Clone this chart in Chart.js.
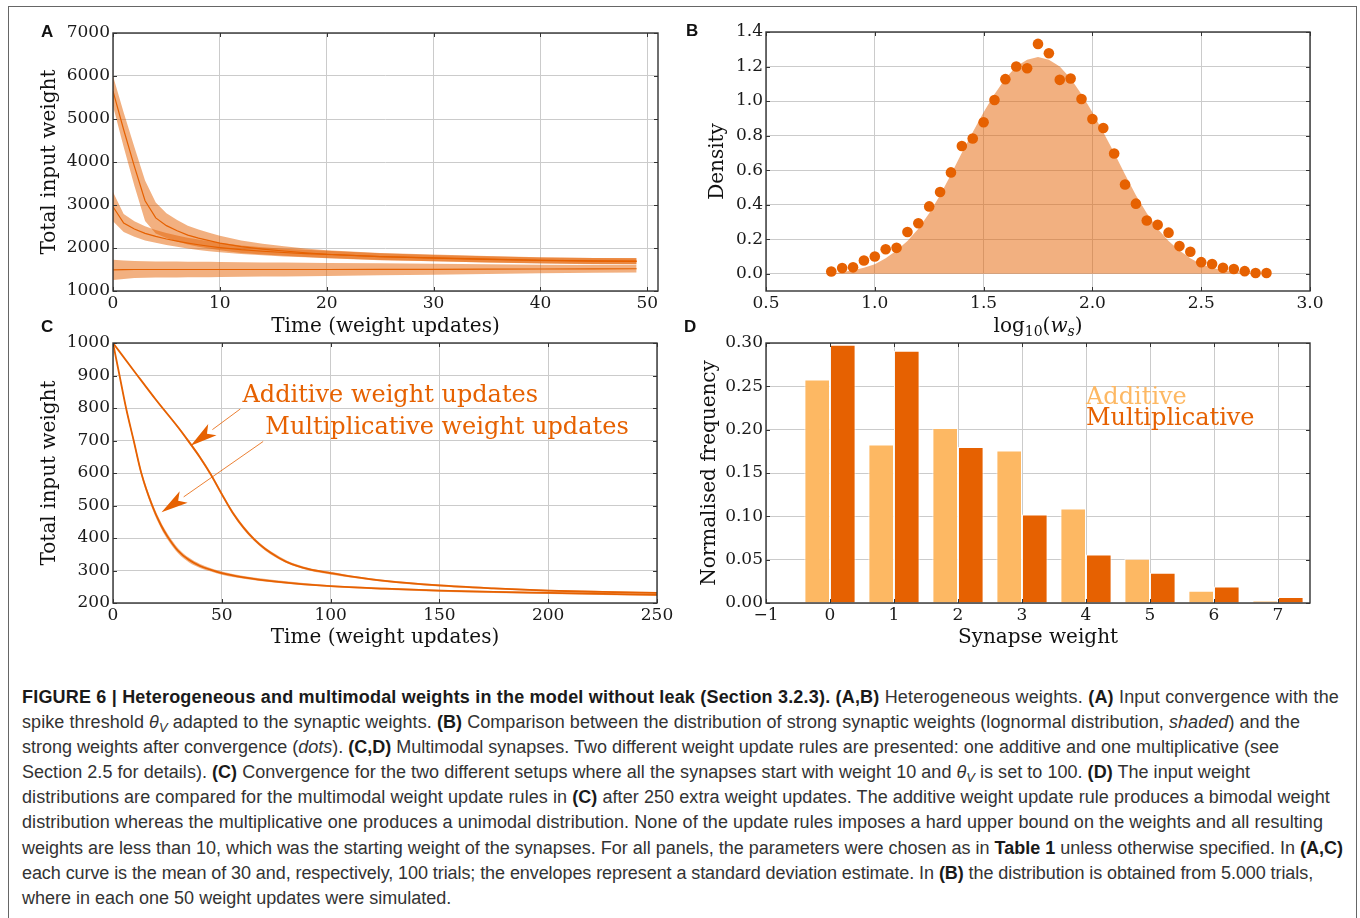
<!DOCTYPE html>
<html>
<head>
<meta charset="utf-8">
<script src="https://cdn.jsdelivr.net/npm/chart.js@4.4.0/dist/chart.umd.min.js"></script>
<style>
    body { margin: 0; background: #fff; width: 1360px; height: 918px; overflow: hidden; position: relative; }
    #frame { position: absolute; left: 8px; top: 6px; width: 1349px; height: 960px; border: 1.4px solid #666; box-sizing: border-box; }
    canvas { position: absolute; }
    .lbl { position: absolute; font: bold 17px "Liberation Sans", Arial, sans-serif; line-height: 17px; color: #111; }
    #caption { position: absolute; left: 22px; top: 685px; font-family: "Liberation Sans", Arial, sans-serif; font-size: 18px; line-height: 25.1px; color: #333; }
    #caption div { white-space: nowrap; width: max-content; }
    #caption b { color: #1a1a1a; }
    #caption sub { font-size: 0.72em; line-height: 0; vertical-align: -0.3em; }
</style>
</head>
<body>
<div id="frame"></div>

<canvas id="chartA" width="660" height="330" style="left:20px;top:15px"></canvas>
<canvas id="chartB" width="660" height="330" style="left:680px;top:15px"></canvas>
<canvas id="chartC" width="660" height="335" style="left:20px;top:320px"></canvas>
<canvas id="chartD" width="660" height="335" style="left:680px;top:320px"></canvas>

<div class="lbl" style="left:41px;top:23px">A</div>
<div class="lbl" style="left:686px;top:22px">B</div>
<div class="lbl" style="left:41px;top:318px">C</div>
<div class="lbl" style="left:684px;top:318px">D</div>

<div id="caption">
<div data-right="1339"><b>FIGURE 6 | Heterogeneous and multimodal weights in the model without leak (Section 3.2.3). (A,B)</b> Heterogeneous weights. <b>(A)</b> Input convergence with the</div>
<div data-right="1300">spike threshold <i>θ</i><sub><i>V</i></sub> adapted to the synaptic weights. <b>(B)</b> Comparison between the distribution of strong synaptic weights (lognormal distribution, <i>shaded</i>) and the</div>
<div data-right="1279">strong weights after convergence (<i>dots</i>). <b>(C,D)</b> Multimodal synapses. Two different weight update rules are presented: one additive and one multiplicative (see</div>
<div data-right="1250">Section 2.5 for details). <b>(C)</b> Convergence for the two different setups where all the synapses start with weight 10 and <i>θ</i><sub><i>V</i></sub> is set to 100. <b>(D)</b> The input weight</div>
<div data-right="1330">distributions are compared for the multimodal weight update rules in <b>(C)</b> after 250 extra weight updates. The additive weight update rule produces a bimodal weight</div>
<div data-right="1323">distribution whereas the multiplicative one produces a unimodal distribution. None of the update rules imposes a hard upper bound on the weights and all resulting</div>
<div data-right="1343">weights are less than 10, which was the starting weight of the synapses. For all panels, the parameters were chosen as in <b>Table 1</b> unless otherwise specified. In <b>(A,C)</b></div>
<div data-right="1313">each curve is the mean of 30 and, respectively, 100 trials; the envelopes represent a standard deviation estimate. In <b>(B)</b> the distribution is obtained from 5.000 trials,</div>
<div>where in each one 50 weight updates were simulated.</div>
</div>

<script>
// Panel A - total input weight for three starting conditions
const timeA = [0, 1, 2, 3, 4, 5, 6, 7, 8, 9, 10, 12, 14, 16, 18, 20, 25, 30, 35, 40, 45, 49];
const highMeanA = [5650, 4750, 3900, 3100, 2700, 2520, 2400, 2300, 2230, 2170, 2115, 2030, 1975, 1930, 1890, 1855, 1800, 1770, 1740, 1715, 1700, 1695];
const highSdA = [350, 400, 450, 470, 360, 290, 250, 220, 200, 182, 168, 145, 125, 110, 100, 95, 85, 80, 75, 72, 70, 70];
const midMeanA = [2960, 2580, 2440, 2340, 2270, 2210, 2160, 2115, 2075, 2040, 2010, 1960, 1925, 1895, 1870, 1850, 1800, 1765, 1735, 1710, 1695, 1690];
const midSdA = [340, 210, 180, 165, 150, 140, 130, 125, 120, 115, 110, 100, 95, 90, 88, 85, 80, 75, 72, 70, 70, 70];
const lowMeanA = [1490, 1495, 1500, 1500, 1500, 1500, 1500, 1500, 1500, 1500, 1500, 1500, 1500, 1500, 1500, 1500, 1505, 1505, 1510, 1512, 1515, 1517];
const lowSdA = [235, 215, 195, 190, 188, 186, 184, 182, 180, 178, 176, 170, 165, 160, 155, 150, 140, 128, 115, 100, 92, 85];

// Panel B - density of log10 weights
const logW = [0.80, 0.85, 0.90, 0.95, 1.00, 1.05, 1.10, 1.15, 1.20, 1.25, 1.30, 1.35, 1.40, 1.45, 1.50, 1.55, 1.60, 1.65, 1.70, 1.75,
    1.80, 1.85, 1.90, 1.95, 2.00, 2.05, 2.10, 2.15, 2.20, 2.25, 2.30, 2.35, 2.40, 2.45, 2.50, 2.55, 2.60, 2.65, 2.70, 2.75, 2.80];
const densityDots = [0.013, 0.033, 0.037, 0.077, 0.100, 0.142, 0.150, 0.242, 0.292, 0.390, 0.473, 0.587, 0.740, 0.783, 0.877, 1.006, 1.127, 1.200, 1.190, 1.331,
    1.277, 1.123, 1.131, 1.012, 0.896, 0.844, 0.696, 0.517, 0.406, 0.308, 0.283, 0.238, 0.160, 0.127, 0.067, 0.056, 0.035, 0.027, 0.015, 0.004, 0.004];
const densityFit = [0.000, 0.010, 0.020, 0.035, 0.055, 0.090, 0.135, 0.190, 0.260, 0.350, 0.455, 0.575, 0.700, 0.820, 0.935, 1.040, 1.130, 1.200, 1.240, 1.255,
    1.240, 1.200, 1.130, 1.040, 0.935, 0.820, 0.700, 0.575, 0.455, 0.350, 0.260, 0.190, 0.135, 0.090, 0.055, 0.035, 0.020, 0.010, 0.005, 0.002, 0.000];

// Panel C - additive vs multiplicative convergence
const timeAdd = [0, 10, 20, 30, 35, 40, 45, 50, 55, 60, 65, 70, 75, 80, 90, 100, 110, 125, 150, 175, 200, 225, 250];
const additiveC = [1000, 911, 823, 740, 695, 648, 595, 535, 478, 432, 395, 366, 344, 326, 304, 292, 281, 268, 254, 245, 238, 234, 231];
const additiveSd = [0, 2, 3, 4, 5, 5, 6, 6, 6, 6, 5, 5, 5, 4, 4, 4, 3, 3, 3, 3, 3, 3, 3];
const timeMul = [0, 3, 6, 9.5, 13, 18, 22, 25, 30, 35, 40, 45, 50, 60, 75, 100, 125, 150, 175, 200, 225, 250];
const multiplicativeC = [1000, 900, 800, 700, 600, 500, 440, 405, 360, 332, 314, 302, 292, 279, 266, 252, 244, 238, 234, 231, 228, 225];
const multiplicativeSd = [0, 3, 5, 7, 8, 9, 9, 9, 8, 7, 6, 5, 5, 4, 4, 3, 3, 3, 3, 3, 3, 3];

// Panel D - weight distributions
const weightsD = [0, 1, 2, 3, 4, 5, 6, 7];
const additiveD = [0.258, 0.183, 0.202, 0.176, 0.109, 0.051, 0.014, 0.003];
const multiplicativeD = [0.298, 0.291, 0.180, 0.102, 0.056, 0.035, 0.019, 0.007];

const ORANGE = '#e66101';
const LIGHT = '#fdb863';
const BAND = 'rgba(230, 97, 1, 0.5)';
const SERIF = '"DejaVu Serif", serif';
const tickFont = { family: SERIF, size: 17 };
const titleFont = { family: SERIF, size: 20 };
const TITLE_LH = 20 * 1.2;

function pts(xs, ys) {
    return xs.map((x, i) => ({ x: x, y: ys[i] }));
}

// page boxes -> padding / fixed axis sizes so the plot area lands where it is in the figure
function panelOptions(box, area, cfg) {
    const xHeight = box.top + box.h - area.bottom;
    const yWidth = area.left - box.left;
    const xTitlePad = cfg.xTitleY ? (box.top + box.h) - cfg.xTitleY - TITLE_LH / 2 : 0;
    const yTitlePad = cfg.yTitleX - box.left - TITLE_LH / 2;
    const grid = { color: '#cbcbcb', lineWidth: 1, drawTicks: false, offset: false };
    return {
        responsive: false,
        animation: false,
        events: [],
        layout: { padding: { left: 0, top: area.top - box.top, right: box.left + box.w - area.right, bottom: 0 } },
        plugins: { legend: { display: false }, tooltip: { enabled: false } },
        scales: {
            x: {
                type: 'linear', min: cfg.x[0], max: cfg.x[1], offset: false,
                afterFit: s => { s.height = xHeight; },
                grid: grid, border: { display: false },
                ticks: { stepSize: cfg.xStep, includeBounds: false, padding: 2, font: tickFont, color: '#1a1a1a',
                    maxRotation: 0, autoSkip: false, callback: cfg.xFmt },
                title: { display: !!cfg.xTitle, text: cfg.xTitle, font: titleFont, color: '#111', padding: { top: 0, bottom: xTitlePad } }
            },
            y: {
                type: 'linear', min: cfg.y[0], max: cfg.y[1],
                afterFit: s => { s.width = yWidth; },
                grid: grid, border: { display: false },
                ticks: { stepSize: cfg.yStep, includeBounds: false, padding: 3, font: tickFont, color: '#1a1a1a',
                    autoSkip: false, callback: cfg.yFmt },
                title: { display: true, text: cfg.yTitle, font: titleFont, color: '#111', padding: { top: yTitlePad, bottom: 0 } }
            }
        }
    };
}

// matplotlib-like box with small inward ticks on all four sides
const framePlugin = {
    id: 'frame',
    afterDatasetsDraw(chart) {
        const { ctx, chartArea: a, scales: { x, y } } = chart;
        ctx.save();
        ctx.strokeStyle = '#333';
        ctx.lineWidth = 1;
        ctx.beginPath();
        x.ticks.forEach(t => {
            const px = Math.round(x.getPixelForValue(t.value)) + 0.5;
            ctx.moveTo(px, a.bottom); ctx.lineTo(px, a.bottom - 4);
            ctx.moveTo(px, a.top); ctx.lineTo(px, a.top + 4);
        });
        y.ticks.forEach(t => {
            const py = Math.round(y.getPixelForValue(t.value)) + 0.5;
            ctx.moveTo(a.left, py); ctx.lineTo(a.left + 4, py);
            ctx.moveTo(a.right, py); ctx.lineTo(a.right - 4, py);
        });
        ctx.stroke();
        ctx.lineWidth = 1.4;
        ctx.strokeRect(a.left, a.top, a.right - a.left, a.bottom - a.top);
        ctx.restore();
    }
};

function bandSets(xs, mean, sd, extra) {
    return [
        Object.assign({ data: pts(xs, mean.map((m, i) => m + sd[i])), borderWidth: 0, pointRadius: 0, fill: false, order: 2 }, extra),
        Object.assign({ data: pts(xs, mean.map((m, i) => m - sd[i])), borderWidth: 0, pointRadius: 0, fill: '-1', backgroundColor: BAND, order: 2 }, extra)
    ];
}

function lineSet(xs, mean, width, extra) {
    return Object.assign({ data: pts(xs, mean), borderColor: ORANGE, borderWidth: width, pointRadius: 0, fill: false, order: 1 }, extra);
}

const intFmt = v => String(v);
const minusFmt = v => String(v).replace('-', '\u2212');

// ---------- A ----------
new Chart(document.getElementById('chartA'), {
    type: 'line',
    data: {
        datasets: [
            ...bandSets(timeA, highMeanA, highSdA, {}),
            ...bandSets(timeA, midMeanA, midSdA, {}),
            ...bandSets(timeA, lowMeanA, lowSdA, {}),
            lineSet(timeA, highMeanA, 1.2, {}),
            lineSet(timeA, midMeanA, 1.2, {}),
            lineSet(timeA, lowMeanA, 1.2, {})
        ]
    },
    options: panelOptions({ left: 20, top: 15, w: 660, h: 330 }, { left: 113, top: 33, right: 658, bottom: 291 }, {
        x: [0, 51], xStep: 10, y: [1000, 7000], yStep: 1000, xFmt: intFmt, yFmt: intFmt,
        xTitle: 'Time (weight updates)', xTitleY: 327, yTitle: 'Total input weight', yTitleX: 50
    }),
    plugins: [framePlugin]
});

// ---------- B ----------
const logLabelPlugin = {
    id: 'logLabel',
    afterDraw(chart) {
        const ctx = chart.ctx;
        const a = chart.chartArea;
        const cx = (a.left + a.right) / 2, cy = 312;
        const big = '20px ' + SERIF, small = '14px ' + SERIF, bigIt = 'italic 20px ' + SERIF, smallIt = 'italic 14px ' + SERIF;
        const parts = [['log', big, 0], ['10', small, 5], ['(', big, 0], ['w', bigIt, 0], ['s', smallIt, 5], [')', big, 0]];
        ctx.save();
        ctx.fillStyle = '#111';
        ctx.textBaseline = 'middle';
        let total = 0;
        parts.forEach(p => { ctx.font = p[1]; total += ctx.measureText(p[0]).width; });
        let px = cx - total / 2;
        parts.forEach(p => { ctx.font = p[1]; ctx.fillText(p[0], px, cy + p[2]); px += ctx.measureText(p[0]).width; });
        ctx.restore();
    }
};

new Chart(document.getElementById('chartB'), {
    type: 'line',
    data: {
        datasets: [
            { data: pts(logW, densityDots), showLine: false, pointRadius: 5.3, pointBackgroundColor: ORANGE, pointBorderWidth: 0, order: 1 },
            { data: pts(logW, densityFit), borderWidth: 0, pointRadius: 0, fill: 'origin', backgroundColor: BAND, order: 2 }
        ]
    },
    options: panelOptions({ left: 680, top: 15, w: 660, h: 330 }, { left: 766, top: 32, right: 1310, bottom: 291 }, {
        x: [0.5, 3.0], xStep: 0.5, y: [-0.1, 1.4], yStep: 0.2, xFmt: v => v.toFixed(1), yFmt: v => v.toFixed(1),
        xTitle: '', yTitle: 'Density', yTitleX: 718
    }),
    plugins: [framePlugin, logLabelPlugin]
});

// ---------- C ----------
const notesC = [
    { text: 'Additive weight updates', x: 59.5, y: 838, from: [58.5, 797], to: [35.7, 684] },
    { text: 'Multiplicative weight updates', x: 70, y: 738, from: [69, 697], to: [22.3, 479] }
];

const notesPlugin = {
    id: 'notes',
    afterDraw(chart) {
        const { ctx, scales: { x, y } } = chart;
        ctx.save();
        notesC.forEach(n => {
            const fx = x.getPixelForValue(n.from[0]), fy = y.getPixelForValue(n.from[1]);
            const tx = x.getPixelForValue(n.to[0]), ty = y.getPixelForValue(n.to[1]);
            const len = Math.hypot(fx - tx, fy - ty);
            const ux = (fx - tx) / len, uy = (fy - ty) / len;
            const hl = 27, hw = 7;
            const bx = tx + ux * hl, by = ty + uy * hl;
            ctx.strokeStyle = ORANGE;
            ctx.lineWidth = 0.8;
            ctx.beginPath();
            ctx.moveTo(fx, fy);
            ctx.lineTo(bx, by);
            ctx.stroke();
            ctx.fillStyle = ORANGE;
            ctx.beginPath();
            ctx.moveTo(tx, ty);
            ctx.lineTo(bx - uy * hw, by + ux * hw);
            ctx.lineTo(tx + ux * hl * 0.75, ty + uy * hl * 0.75);
            ctx.lineTo(bx + uy * hw, by - ux * hw);
            ctx.closePath();
            ctx.fill();
            ctx.font = '24px ' + SERIF;
            ctx.textBaseline = 'middle';
            ctx.textAlign = 'left';
            ctx.fillText(n.text, x.getPixelForValue(n.x), y.getPixelForValue(n.y));
        });
        ctx.restore();
    }
};

new Chart(document.getElementById('chartC'), {
    type: 'line',
    data: {
        datasets: [
            ...bandSets(timeAdd, additiveC, additiveSd, { cubicInterpolationMode: 'monotone' }),
            ...bandSets(timeMul, multiplicativeC, multiplicativeSd, { cubicInterpolationMode: 'monotone' }),
            lineSet(timeAdd, additiveC, 1.8, { cubicInterpolationMode: 'monotone' }),
            lineSet(timeMul, multiplicativeC, 1.8, { cubicInterpolationMode: 'monotone' })
        ]
    },
    options: panelOptions({ left: 20, top: 320, w: 660, h: 335 }, { left: 113, top: 343, right: 657, bottom: 603 }, {
        x: [0, 250], xStep: 50, y: [200, 1000], yStep: 100, xFmt: intFmt, yFmt: intFmt,
        xTitle: 'Time (weight updates)', xTitleY: 638, yTitle: 'Total input weight', yTitleX: 50
    }),
    plugins: [framePlugin, notesPlugin]
});

// ---------- D ----------
const legendD = [
    { text: 'Additive', color: LIGHT, x: 4.0, y: 0.2365 },
    { text: 'Multiplicative', color: ORANGE, x: 4.0, y: 0.2123 }
];

const legendPlugin = {
    id: 'legendD',
    afterDraw(chart) {
        const { ctx, scales: { x, y } } = chart;
        ctx.save();
        ctx.font = '24px ' + SERIF;
        ctx.textBaseline = 'middle';
        legendD.forEach(l => {
            ctx.fillStyle = l.color;
            ctx.fillText(l.text, x.getPixelForValue(l.x), y.getPixelForValue(l.y));
        });
        ctx.restore();
    }
};

new Chart(document.getElementById('chartD'), {
    type: 'bar',
    data: {
        datasets: [
            { data: pts(weightsD, additiveD), backgroundColor: LIGHT, borderColor: 'rgba(255,255,255,0.85)', borderWidth: 1, borderSkipped: 'bottom',
                categoryPercentage: 0.8, barPercentage: 1.0 },
            { data: pts(weightsD, multiplicativeD), backgroundColor: ORANGE, borderColor: 'rgba(255,255,255,0.85)', borderWidth: 1, borderSkipped: 'bottom',
                categoryPercentage: 0.8, barPercentage: 1.0 }
        ]
    },
    options: panelOptions({ left: 680, top: 320, w: 660, h: 335 }, { left: 766, top: 343, right: 1310, bottom: 603 }, {
        x: [-1, 7.5], xStep: 1, y: [0, 0.30], yStep: 0.05, xFmt: minusFmt, yFmt: v => v.toFixed(2),
        xTitle: 'Synapse weight', xTitleY: 638, yTitle: 'Normalised frequency', yTitleX: 710
    }),
    plugins: [framePlugin, legendPlugin]
});

// stretch each caption line to the width it has in the figure
document.querySelectorAll('#caption div[data-right]').forEach(el => {
    const target = Number(el.dataset.right) - 22;
    const natural = el.getBoundingClientRect().width;
    const n = el.textContent.length;
    el.style.letterSpacing = ((target - natural) / n).toFixed(3) + 'px';
});
</script>
</body>
</html>
